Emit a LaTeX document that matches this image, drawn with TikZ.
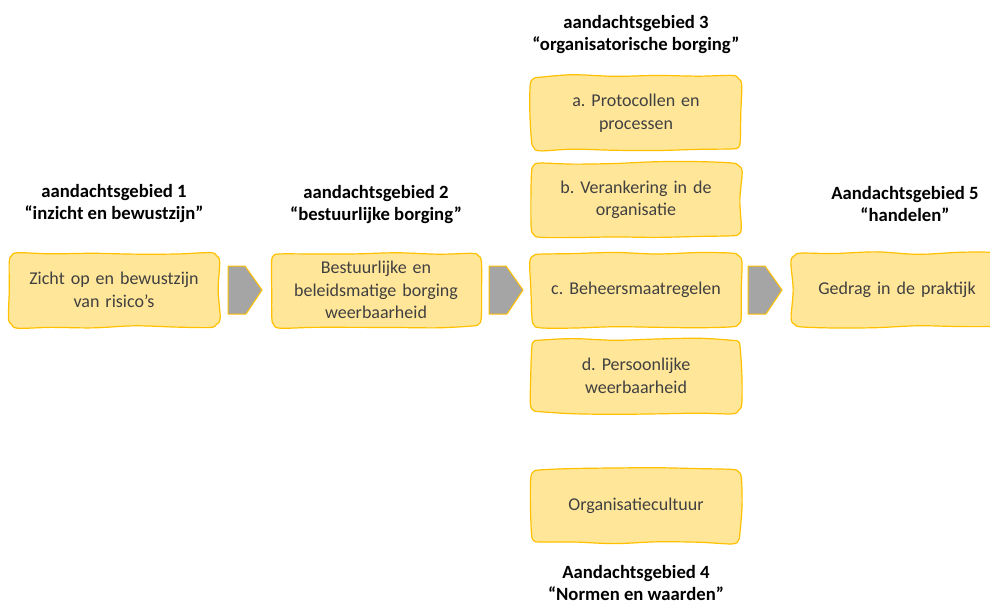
\documentclass[tikz,border=0pt]{standalone}
\usepackage{fontspec}
\setmainfont{Carlito}
\definecolor{boxfill}{HTML}{FFE699}
\definecolor{boxline}{HTML}{FFC000}
\definecolor{arrowfill}{HTML}{A5A5A5}
\definecolor{txt}{HTML}{404040}
\frenchspacing
\newcommand\wobnode[3]{%
  \begin{scope}[shift={#2}]
    \draw[wobbox] plot[smooth cycle, tension=0.55] coordinates {
      (-96,{-37+1.4*rand}) (-63,{-37+1.4*rand}) (-21,{-37+1.4*rand}) (21,{-37+1.4*rand}) (63,{-37+1.4*rand}) (96,{-37+1.4*rand})
      (102.4,-34.4)
      ({105+1.2*rand},-28) ({105+1.2*rand},0) ({105+1.2*rand},28)
      (102.4,34.4)
      (96,{37+1.4*rand}) (63,{37+1.4*rand}) (21,{37+1.4*rand}) (-21,{37+1.4*rand}) (-63,{37+1.4*rand}) (-96,{37+1.4*rand})
      (-102.4,34.4)
      ({-105+1.2*rand},28) ({-105+1.2*rand},0) ({-105+1.2*rand},-28)
      (-102.4,-34.4)};
  \end{scope}
  \node[boxtext] (#1) at #2 {#3};
}
\begin{document}
\begin{tikzpicture}[x=1pt,y=-1pt,
 wobbox/.style={fill=boxfill, draw=boxline, line width=1.2pt, line join=round},
 boxtext/.style={minimum width=210pt, minimum height=74pt, align=center, text=txt,
   font=\fontsize{18}{22.5}\selectfont, inner sep=0pt, text width=204pt},
 title/.style={font=\bfseries\fontsize{18.7}{22}\selectfont, align=center, text=black, inner sep=0pt},
 blockarrow/.style={fill=arrowfill, draw=boxline, line width=1pt, line join=round}]
\pgfmathsetseed{11}
\useasboundingbox (0,0) rectangle (990,604);
\clip (0,0) rectangle (990,604);

% boxes
\wobnode{b1}{(114,290)}{Zicht op en bewustzijn\\van risico’s}
\wobnode{b2}{(376,290)}{Bestuurlijke en\\beleidsmatige borging\\weerbaarheid}
\wobnode{ba}{(636,113)}{a. Protocollen en\\processen}
\wobnode{bb}{(636,200)}{b. Verankering in de\\organisatie}
\wobnode{bc}{(636,290)}{c. Beheersmaatregelen}
\wobnode{bd}{(636,376)}{d. Persoonlijke\\weerbaarheid}
\wobnode{bo}{(636,506)}{Organisatiecultuur}
\wobnode{b5}{(897,290)}{Gedrag in de praktijk}

% titles
\node[title] (t1) at (114,204) {aandachtsgebied 1\\“inzicht en bewustzijn”};
\node[title] (t2) at (376,205) {aandachtsgebied 2\\“bestuurlijke borging”};
\node[title] (t3) at (636,35) {aandachtsgebied 3\\“organisatorische borging”};
\node[title] (t4) at (636,583) {Aandachtsgebied 4\\“Normen en waarden”};
\node[title] (t5) at (905,204) {Aandachtsgebied 5\\“handelen”};

% block arrows
\coordinate (a1) at (228,290);
\coordinate (a2) at (489,290);
\coordinate (a3) at (748,290);
\foreach \a in {a1,a2,a3}{
  \draw[blockarrow] (\a) ++(0,-24) -- ++(17,0) -- ++(17,24) -- ++(-16,24) -- ++(-18,0) -- cycle;
}
\end{tikzpicture}
\end{document}
